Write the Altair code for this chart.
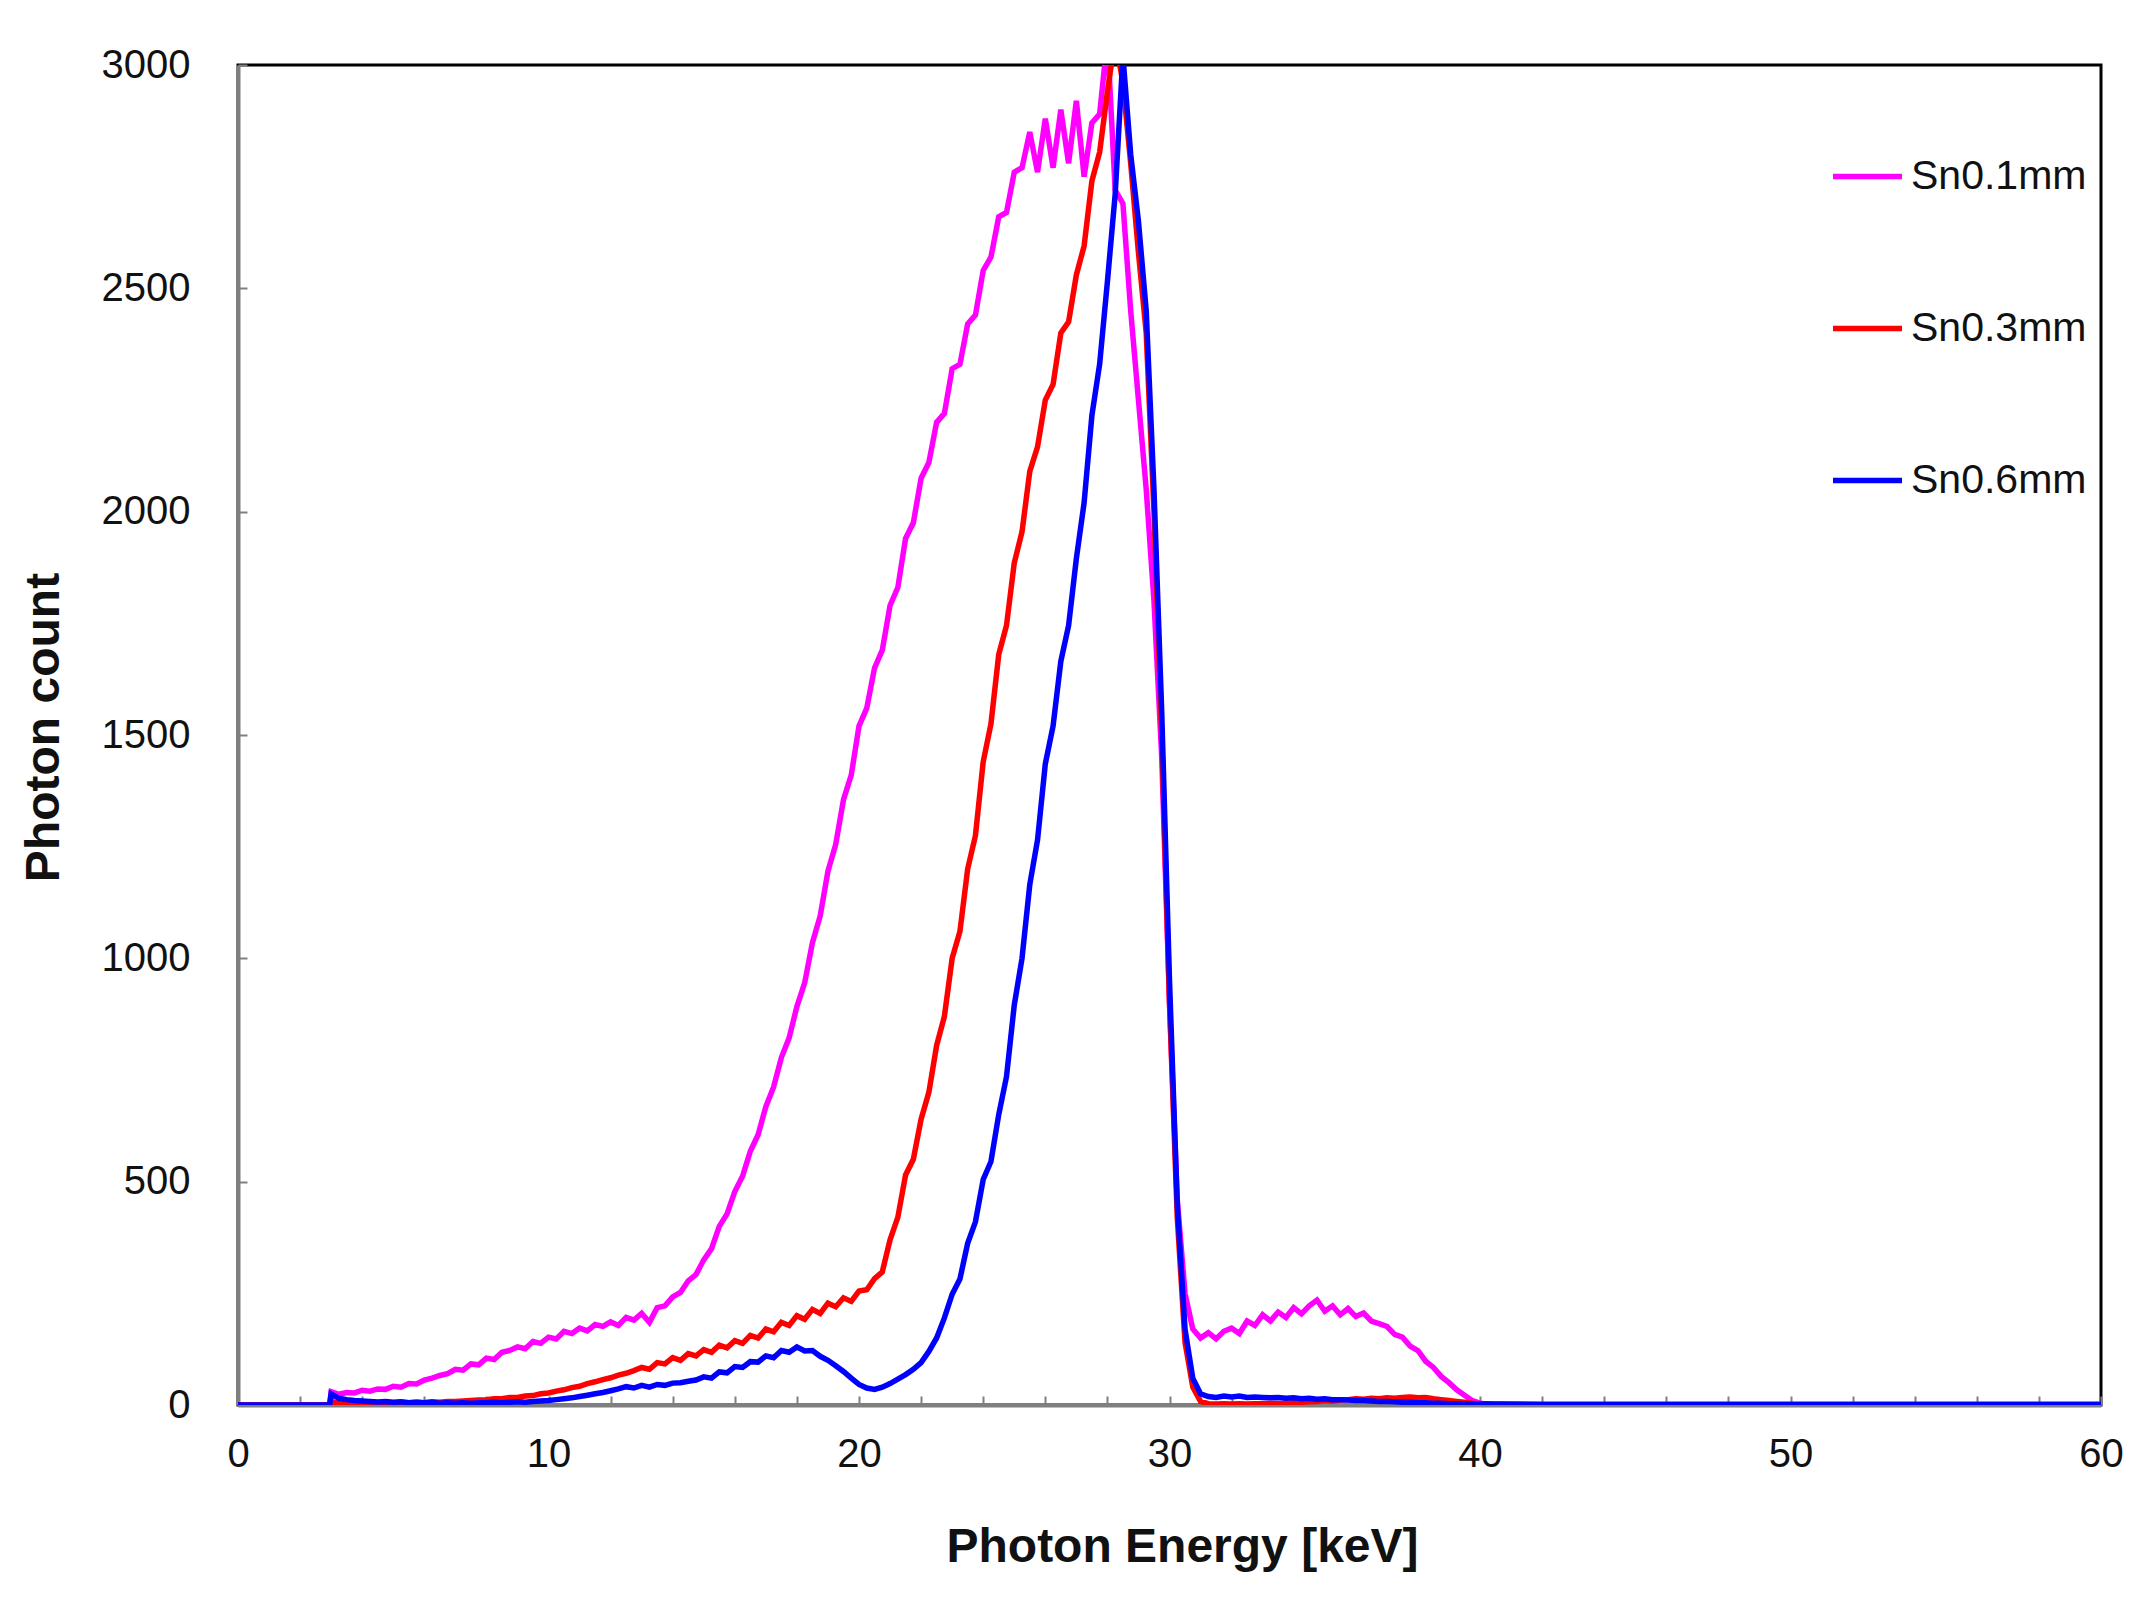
import altair as alt
import pandas as pd

# Energy grid of the spectra (keV): 3.00 .. 40.75 in 0.25 keV channels
E_START = 3.0
E_STEP = 0.25

series_names = ["Sn0.1mm", "Sn0.3mm", "Sn0.6mm"]
series_colors = ["#FF00FF", "#FF0000", "#0000FF"]

sn01 = [
    30, 24, 28, 27, 33, 31, 36, 35,
    42, 40, 48, 47, 56, 60, 66, 70,
    80, 78, 92, 90, 105, 102, 118, 122,
    130, 126, 142, 138, 152, 148, 165, 160,
    172, 166, 180, 176, 186, 178, 196, 190,
    205, 185, 218, 222, 242, 252, 278, 292,
    325, 350, 400, 428, 478, 512, 568, 605,
    668, 712, 778, 822, 892, 945, 1035, 1095,
    1195, 1255, 1355, 1410, 1520, 1560, 1650, 1690,
    1790, 1830, 1940, 1975, 2075, 2110, 2200, 2220,
    2320, 2330, 2420, 2440, 2540, 2570, 2660, 2670,
    2760, 2770, 2850, 2760, 2880, 2770, 2900, 2780,
    2920, 2750, 2870, 2890, 3060, 2720, 2690, 2450,
    2250, 2050, 1800, 1450, 900, 460, 250, 170,
    150, 162, 148, 165, 172, 160, 188, 178,
    202, 188, 208, 196, 218, 204, 222, 235,
    210, 222, 202, 216, 198, 206, 188, 182,
    176, 158, 152, 132, 122, 98, 84, 64,
    50, 34, 22, 10, 4, 2, 1, 1,
]

sn03 = [
    8, 4, 3, 5, 3, 5, 4, 5,
    4, 6, 5, 6, 5, 7, 6, 8,
    8, 9, 10, 11, 12, 14, 14, 17,
    17, 20, 21, 25, 27, 31, 34, 39,
    42, 48, 52, 57, 61, 67, 71, 77,
    84, 80, 95, 92, 106, 100, 115, 110,
    124, 118, 134, 128, 144, 138, 156, 150,
    170, 164, 185, 178, 200, 192, 214, 205,
    228, 220, 240, 232, 255, 258, 283, 298,
    370, 420, 515, 550, 640, 700, 805, 870,
    1000, 1060, 1200, 1275, 1440, 1525, 1680, 1745,
    1885, 1955, 2090, 2145, 2250, 2285, 2400, 2425,
    2530, 2595, 2740, 2805, 2940, 3060, 2960, 2780,
    2580, 2400, 2000, 1500, 900, 420, 140, 40,
    8, 3, 2, 3, 2, 3, 2, 3,
    3, 4, 3, 4, 5, 6, 7, 8,
    10, 9, 11, 12, 14, 13, 15, 14,
    16, 15, 17, 18, 16, 17, 14, 12,
    10, 8, 6, 4, 3, 2, 1, 1,
]

sn06 = [
    25, 15, 12, 10, 9, 8, 7, 8,
    6, 7, 5, 6, 5, 6, 4, 5,
    4, 5, 4, 5, 5, 6, 5, 6,
    7, 6, 8, 9, 10, 12, 14, 16,
    19, 22, 25, 28, 32, 36, 41, 38,
    44, 40, 46, 44, 49, 50, 53, 56,
    63, 60, 74, 72, 86, 84, 97, 96,
    110, 106, 122, 118, 130, 121, 122, 109,
    100, 88, 75, 60, 46, 38, 35, 40,
    48, 58, 68, 80, 95, 120, 150, 195,
    248, 282, 362, 410, 505, 545, 650, 735,
    895, 1000, 1165, 1265, 1435, 1520, 1665, 1745,
    1895, 2020, 2215, 2330, 2515, 2710, 3020, 2800,
    2650, 2450, 2050, 1550, 950, 450, 170, 60,
    25, 19, 17, 20, 18, 20, 17, 18,
    17, 16, 17, 15, 16, 14, 15, 13,
    14, 12, 12, 11, 10, 10, 9, 8,
    8, 7, 6, 6, 5, 5, 4, 4,
    3, 3, 3, 2, 2, 2, 2, 2,
]

# channels below the detector threshold and above the end of the spectrum
head_energy = [0.0, 2.95]
head_count = [0, 0]
tail_energy = [42.0, 45.0, 50.0, 55.0, 60.0]
tail_count = [1, 1, 1, 1, 1]

x_label_values = [0, 10, 20, 30, 40, 50, 60]
x_minor_values = list(range(0, 61, 2))
y_values = [0, 500, 1000, 1500, 2000, 2500, 3000]

rows = []
for name, vals in zip(series_names, [sn01, sn03, sn06]):
    for e, c in zip(head_energy, head_count):
        rows.append({"E": e, "count": c, "series": name})
    for i, c in enumerate(vals):
        rows.append({"E": round(E_START + E_STEP * i, 3), "count": c, "series": name})
    for e, c in zip(tail_energy, tail_count):
        rows.append({"E": e, "count": c, "series": name})
df = pd.DataFrame(rows)

W, H = 1863, 1340
FONT = "Liberation Sans"
GRAY = "#7f7f7f"

xscale = alt.Scale(domain=[0, 60], nice=False, zero=False)
yscale = alt.Scale(domain=[0, 3000], nice=False)

lines = alt.Chart(df).mark_line(strokeWidth=5.5, clip=True).encode(
    x=alt.X("E:Q", scale=xscale,
            axis=alt.Axis(values=x_label_values, ticks=False, tickSize=0,
                          labelFontSize=40, labelFont=FONT, labelColor="#111111",
                          labelPadding=29, labelFlush=False, labelOverlap=False,
                          domainColor=GRAY, domainWidth=4, grid=False,
                          title="Photon Energy [keV]", titleFont=FONT,
                          titleFontSize=48, titleFontWeight="bold",
                          titleColor="#111111", titleX=944, titleY=142,
                          titleBaseline="middle", titleAlign="center",
                          orient="bottom")),
    y=alt.Y("count:Q", scale=yscale,
            axis=alt.Axis(values=y_values, ticks=False, tickSize=0, format="d",
                          labelFontSize=40, labelFont=FONT, labelColor="#111111",
                          labelPadding=48, labelOverlap=False,
                          domainColor=GRAY, domainWidth=4, grid=False,
                          title="Photon count", titleFont=FONT,
                          titleFontSize=48, titleFontWeight="bold",
                          titleColor="#111111", titleX=-194, titleY=662,
                          titleAngle=270, titleBaseline="middle",
                          titleAlign="center", orient="left")),
    color=alt.Color("series:N",
                    scale=alt.Scale(domain=series_names, range=series_colors),
                    sort=series_names,
                    legend=alt.Legend(title=None, orient="none",
                                      legendX=1592, legendY=74,
                                      symbolType="stroke", symbolSize=4761,
                                      symbolStrokeWidth=5.5, labelFont=FONT,
                                      labelFontSize=41, labelColor="#111111",
                                      labelOffset=6, labelLimit=0,
                                      rowPadding=94, padding=0)),
    order=alt.Order("E:Q"),
)

ticks_layer = alt.Chart(df).mark_point(opacity=0, size=1).encode(
    x=alt.X("E:Q", scale=xscale,
            axis=alt.Axis(orient="top", offset=-H, values=x_minor_values,
                          labels=False, domain=False, ticks=True, tickSize=9,
                          tickColor=GRAY, tickWidth=2, grid=False, title=None)),
    y=alt.Y("count:Q", scale=yscale,
            axis=alt.Axis(orient="right", offset=-W, values=y_values,
                          labels=False, domain=False, ticks=True, tickSize=9,
                          tickColor=GRAY, tickWidth=2, grid=False, title=None)),
)

chart = alt.layer(ticks_layer, lines).resolve_axis(
    x="independent", y="independent"
).properties(
    width=W, height=H,
    autosize=alt.AutoSizeParams(type="none"),
    padding={"left": 230, "top": 57, "right": 39, "bottom": 185},
    background="white",
).configure_view(stroke="#000000", strokeWidth=3)

chart.save("out.html", embed_options={"renderer": "svg", "actions": False})
